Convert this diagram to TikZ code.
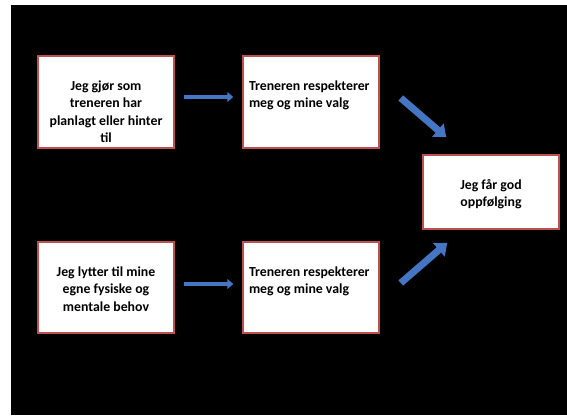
\documentclass[tikz,border=0pt]{standalone}
\usepackage{fontspec}
\setmainfont{Carlito}
\usetikzlibrary{positioning,arrows.meta}
\definecolor{boxred}{RGB}{192,80,77}
\definecolor{arrowblue}{RGB}{68,118,196}
\newcommand{\boxtext}[2]{\parbox[c][#1][t]{124pt}{\vspace*{24.5pt}#2}}

\begin{document}
\begin{tikzpicture}[x=1pt,y=1pt,
  boks/.style = {draw=boxred, line width=1.5pt, fill=white, inner sep=0pt,
                 minimum width=136pt, font=\bfseries\fontsize{13.8}{17.5}\selectfont},
  pil/.style = {draw=arrowblue, line width=4pt, -{Triangle[length=6pt,width=10pt]}},
  pilstor/.style = {draw=arrowblue, line width=7pt, -{Triangle[length=11pt,width=17pt]}}]
\useasboundingbox (0,0) rectangle (567,415);
\fill[black] (11,0) rectangle (567,410);
\node[boks] (gjor) at (106,313) {\boxtext{92pt}{\centering Jeg gjør som\\treneren har\\planlagt eller hinter\\til}};
\node[boks] (lytter) at (106,127.5) {\boxtext{91pt}{\centering Jeg lytter til mine\\egne fysiske og\\mentale behov}};
\foreach \n/\yy/\h in {resp1/313/92pt, resp2/127.5/91pt}
    \node[boks] (\n) at (311,\yy) {\boxtext{\h}{\raggedright Treneren~respekterer\\meg og mine valg}};
\node[boks] (god) at (491,223) {\boxtext{74pt}{\centering Jeg får god\\oppfølging}};
\draw[pil] ([shift={(9,5)}]gjor.east) -- ([shift={(-9,5)}]resp1.west);
\draw[pil] ([shift={(9,3.5)}]lytter.east) -- ([shift={(-9,3.5)}]resp2.west);
\draw[pilstor] ([shift={(21,4)}]resp1.east) -- ([shift={(24,17)}]god.north west);
\draw[pilstor] ([shift={(21,4.5)}]resp2.east) -- ([shift={(25,-13)}]god.south west);
\end{tikzpicture}
\end{document}
